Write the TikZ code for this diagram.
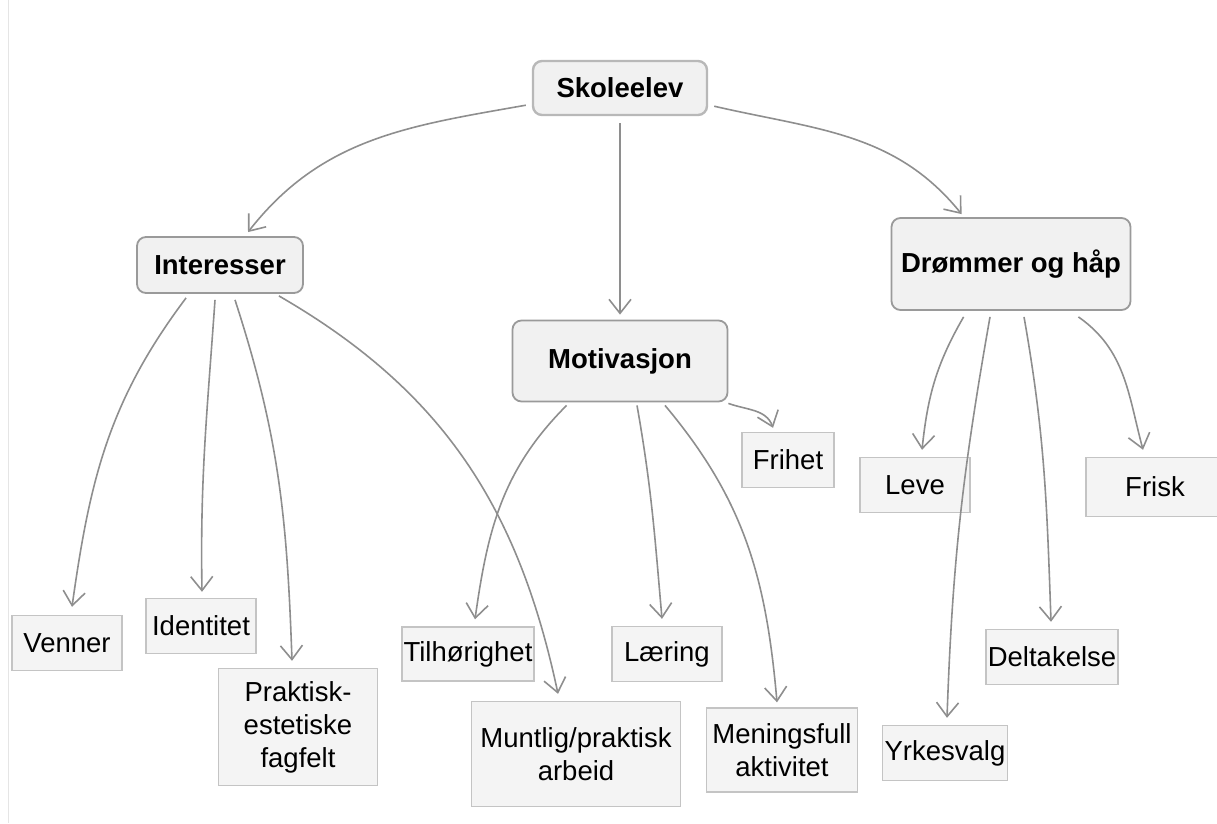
\documentclass[tikz,border=0pt]{standalone}
\usepackage{fontspec}
\setmainfont{Liberation Sans}
\usetikzlibrary{
    arrows.meta
}
\definecolor{boxfill}{HTML}{F1F1F1}
\definecolor{leaffill}{HTML}{F4F4F4}
\definecolor{boxline}{HTML}{9A9A9A}
\definecolor{leafline}{HTML}{C4C4C4}
\definecolor{arrowline}{HTML}{8E8E8E}
\tikzset{topic/.style={
    draw=boxline,
    line width=1.8pt,
    fill=boxfill,
    rounded corners=9pt,
    font=\fontsize{27.5}{33}\selectfont\bfseries
}}
\tikzset{leaf/.style={
    draw=leafline,
    line width=1.4pt,
    fill=leaffill,
    inner sep=1pt,
    font=\fontsize{27.5}{33}\selectfont
}}
\tikzset{arrow/.style={
    draw=arrowline,
    line width=1.6pt,
    -{Straight Barb[length=14pt,width=22pt,line width=1.6pt]}
}}

\begin{document}
\begin{tikzpicture}[
            x=1pt,
            y=1pt,
            align=center,
    ]
        \useasboundingbox (0,0) rectangle (1217,-823);
        \draw[gray!20, line width=1pt] (8,0) -- (8,-823);

        \node[topic, draw=boxline!70, line width=2.4pt, minimum width=174, minimum height=54] at (620,-88)
            (skole)
            {Skoleelev};

        \node[topic, minimum width=166, minimum height=56] at (220,-265)
            (int)
            {Interesser};

        \node[topic, minimum width=215, minimum height=81] at (620,-361)
            (mot)
            {Motivasjon};

        \node[topic, minimum width=239, minimum height=92] at (1011,-264)
            (drom)
            {Drømmer og håp};

        % Interesser
        \node[leaf, minimum width=110, minimum height=55] at (67,-643)
            (venner)
            {Venner};

        \node[leaf, minimum width=110, minimum height=55] at (201,-626)
            (ident)
            {Identitet};

        \node[leaf, minimum width=159, minimum height=117] at (298,-727)
            (prakt)
            {Praktisk-\\estetiske\\fagfelt};

        \node[leaf, minimum width=209, minimum height=105] at (576,-754)
            (munt)
            {Muntlig/praktisk\\arbeid};

        % Motivasjon
        \node[leaf, minimum width=132, minimum height=54] at (468,-654)
            (tilh)
            {Tilhørighet};

        \node[leaf, minimum width=110, minimum height=55] at (667,-654)
            (laer)
            {Læring};

        \node[leaf, minimum width=151, minimum height=84] at (782,-750)
            (mening)
            {Meningsfull\\aktivitet};

        \node[leaf, minimum width=92, minimum height=55] at (788,-460)
            (frihet)
            {Frihet};

        % Drømmer og håp
        \node[leaf, minimum width=110, minimum height=55] at (915,-485)
            (leve)
            {Leve};

        \node[leaf, minimum width=138, minimum height=59] at (1155,-487)
            (frisk)
            {Frisk};

        \node[leaf, minimum width=132, minimum height=55] at (1052,-657)
            (delt)
            {Deltakelse};

        \node[leaf, minimum width=125, minimum height=55] at (945,-753)
            (yrkes)
            {Yrkesvalg};

        \draw[arrow] ([shift={(-6,11)}]skole.south west) to[out=190,in=52] ([shift={(28,4)}]int.north);
        \draw[arrow] ([yshift=-7]skole.south) -- ([yshift=5]mot.north);
        \draw[arrow] ([shift={(6,10)}]skole.south east) to[out=-13,in=129] ([shift={(71,3)}]drom.north west);

        \draw[arrow] ([shift={(50,-4)}]int.south west) to[out=233,in=82] ([shift={(5,8)}]venner.north);
        \draw[arrow] ([shift={(-5,-6)}]int.south) to[out=266,in=91] ([shift={(1,6)}]ident.north);
        \draw[arrow] ([shift={(15,-6)}]int.south) to[out=-72,in=92] ([shift={(-6,7)}]prakt.north);
        \draw[arrow] ([shift={(-25,-2)}]int.south east) to[out=-30,in=102] ([shift={(-18,7)}]munt.north);

        \draw[arrow] ([shift={(55,-3)}]mot.south west) to[out=225,in=82] ([shift={(7,7)}]tilh.north);
        \draw[arrow] ([shift={(17,-3)}]mot.south) to[out=-80,in=95] ([shift={(-5,7)}]laer.north);
        \draw[arrow] ([shift={(45,-3)}]mot.south) to[out=-50,in=95] ([shift={(-5,5)}]mening.north);
        \draw[arrow] ([shift={(0,-1)}]mot.south east) to[out=-20,in=110] ([shift={(-15,4)}]frihet.north);

        \draw[arrow] ([shift={(73,-6)}]drom.south west) to[out=240,in=84] ([shift={(7,7)}]leve.north);
        \draw[arrow] ([shift={(-21,-6)}]drom.south) to[out=-100,in=88] ([shift={(2,7)}]yrkes.north);
        \draw[arrow] ([shift={(13,-6)}]drom.south) to[out=-80,in=92] ([shift={(-1,7)}]delt.north);
        \draw[arrow] ([shift={(-53,-6)}]drom.south east) to[out=-35,in=105] ([shift={(-12,7)}]frisk.north);

    \end{tikzpicture}
\end{document}
